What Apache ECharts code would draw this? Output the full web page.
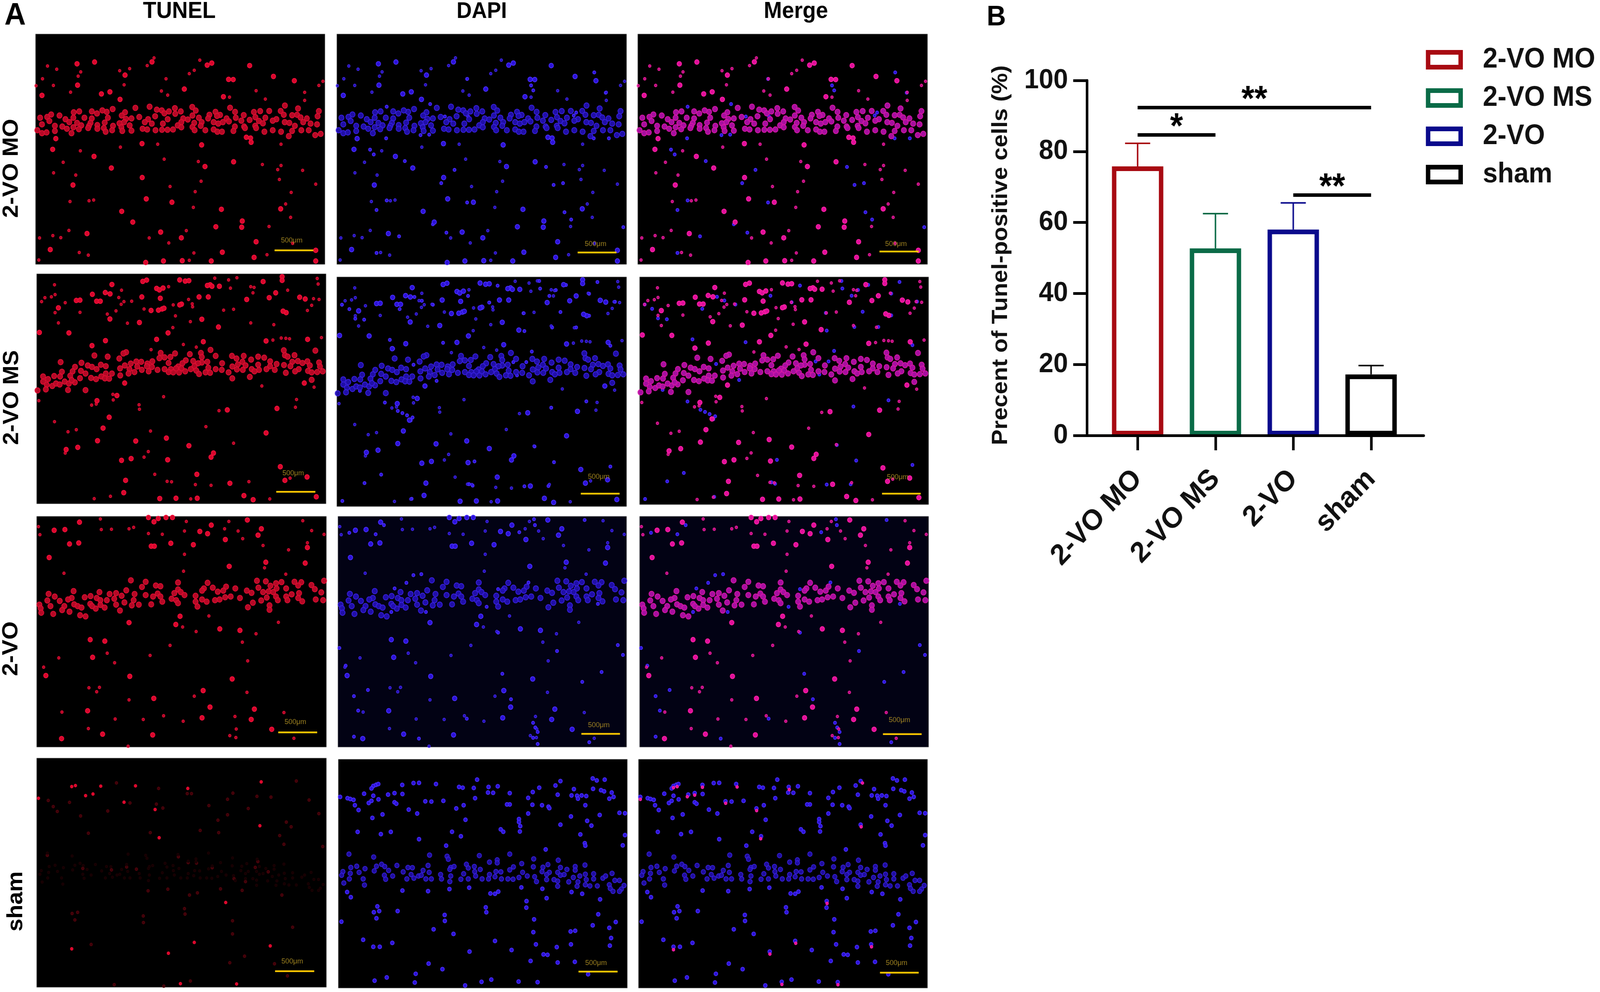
<!DOCTYPE html>
<html>
<head>
<meta charset="utf-8">
<title>TUNEL</title>
<style>
  html, body { margin: 0; padding: 0; background: #fff; overflow: hidden; }
  #main { width: 4328px; height: 2540px; transform-origin: 0 0; }
</style>
<script src="https://cdn.jsdelivr.net/npm/echarts@6/dist/echarts.min.js"></script>
</head>
<body>
<div id="main"></div>
<script>
// bar chart values
var categories = ['2-VO MO', '2-VO MS', '2-VO', 'sham'];
var percentValues = [75.8, 52.7, 58, 17.2];
var percentErrTops = [82.3, 62.5, 65.5, 19.7];
var yTicks = { min: 0, max: 100, step: 20 };
var sigBrackets = [
  { from: 0, to: 3, y: 92.4, text: '**' },
  { from: 0, to: 1, y: 84.7, text: '*' },
  { from: 2, to: 3, y: 67.7, text: '**' }
];

var columnNames = ['TUNEL', 'DAPI', 'Merge'];

var r1Cells = [[225,203],[320,191],[485,280],[228,348],[403,394],[357,408],[35,418],[458,445],[631,190],[930,212],[955,198],[806,375],[1071,310],[1046,309],[1289,289],[1402,318],[1018,427],[1160,215],[1142,703],[1165,708],[1168,737],[110,712],[577,746],[93,785],[317,833],[900,755],[1073,870],[411,912],[918,902],[578,977],[203,1028],[739,1145],[600,1122],[1007,1193],[1328,1190],[467,1207],[527,1280],[1120,1273],[1117,1315],[977,1312],[678,1348],[279,1358],[790,1387],[1195,1414],[80,1467],[1012,1485],[1184,1520],[693,1545],[795,1543],[952,1545],[597,1555],[1518,1472],[1518,1545]];
var r1Small = [[65,218],[115,240],[245,258],[231,287],[38,305],[97,350],[190,396],[3,352],[456,250],[510,236],[480,346],[605,215],[642,163],[707,305],[833,270],[860,247],[890,178],[682,388],[716,416],[1195,386],[1051,430],[1557,322],[1535,350],[1458,397],[1458,452],[1245,443],[243,795],[98,945],[150,873],[218,960],[697,852],[882,868],[1229,888],[1330,895],[1312,923],[1447,928],[1321,990],[1518,1022],[729,1038],[897,1002],[865,1073],[1385,1078],[290,1135],[315,1130],[187,1140],[855,1180],[1355,1157],[1382,1248],[1265,1310],[181,1337],[817,1338],[22,1388],[94,1372],[137,1386],[616,1388],[722,1422],[237,1487],[286,1505],[858,1490],[1393,1425],[1254,1502],[18,1538],[833,1540],[460,770],[662,750],[1330,750]];
var r1Band = [[541,503],[618,495],[849,497],[755,505],[418,511],[1054,502],[1351,487],[657,515],[684,520],[868,521],[1217,525],[1266,524],[1328,524],[1183,531],[1422,507],[1535,525],[305,527],[386,530],[485,533],[723,527],[787,527],[975,530],[207,533],[237,527],[362,520],[85,548],[130,555],[333,541],[467,555],[648,560],[757,543],[698,540],[850,555],[1128,552],[1081,530],[1000,551],[983,558],[1345,550],[1417,550],[1390,553],[942,550],[1191,566],[562,565],[25,570],[63,565],[162,580],[205,570],[265,570],[305,575],[392,570],[490,578],[520,575],[610,580],[716,580],[800,575],[825,582],[885,570],[935,575],[1035,575],[1085,570],[1245,570],[1305,580],[1436,568],[1470,575],[1528,560],[75,592],[183,600],[298,605],[375,603],[455,608],[480,600],[592,600],[690,610],[790,600],[860,605],[900,600],[965,600],[1048,595],[1115,590],[1160,585],[1210,592],[1285,590],[1350,600],[1450,600],[1490,610],[35,615],[105,625],[225,605],[248,622],[290,625],[335,620],[420,625],[510,622],[630,610],[770,622],[990,610],[1015,600],[1080,630],[1130,630],[1190,625],[1232,608],[1375,605],[1405,625],[1525,615],[145,630],[170,645],[205,635],[235,648],[285,640],[335,645],[370,640],[465,635],[580,645],[605,650],[650,655],[685,652],[715,652],[745,650],[790,635],[850,633],[862,655],[895,625],[920,655],[965,650],[985,665],[1010,665],[1072,660],[1135,640],[1195,640],[10,655],[35,675],[60,670],[105,660],[195,675],[380,665],[415,655],[470,660],[520,658],[1240,665],[1285,655],[1390,660],[1440,655],[1480,655],[1515,688],[1545,680],[1372,695],[1330,665]];
var r1DapiOnly = [[705,306],[505,477],[267,710],[180,787],[200,820],[368,865],[637,925],[565,1015],[1132,905],[1224,1015],[1173,1027],[1051,350],[1063,384],[1393,262],[1455,400],[270,495],[710,560],[585,562],[270,1133],[215,1198],[1232,1213],[1268,1263],[337,1377],[520,1295],[593,1352],[215,1490],[1550,1315],[705,1147],[1282,555],[1295,535],[1472,710],[1390,710],[500,685],[453,688]];

var r2Cells = [[408,73],[596,43],[575,52],[775,42],[805,50],[825,47],[650,100],[665,110],[685,97],[940,75],[925,80],[950,85],[990,85],[1227,53],[1330,20],[1330,45],[1295,130],[1260,163],[1138,175],[1425,160],[1455,172],[302,140],[398,137],[372,128],[570,158],[670,167],[215,182],[235,180],[325,187],[345,187],[880,158],[930,158],[785,207],[775,212],[660,248],[680,240],[690,235],[620,250],[118,232],[1352,265],[1335,255],[895,310],[397,308],[557,332],[985,363],[175,403],[712,403],[650,447],[373,456],[1243,458],[1468,447],[300,490],[903,463],[15,400],[477,745],[1450,745],[435,830],[327,865],[1033,928],[1302,918],[393,978],[360,1052],[1243,1085],[703,1120],[330,1138],[537,1140],[825,1172],[160,1198],[223,1183],[958,1222],[945,1250],[710,1268],[460,1272],[512,1260],[1320,1315],[868,1367],[482,1408],[1465,1385],[1345,1408],[1047,1428],[472,1492],[1123,1512],[667,1532],[755,1530],[870,1530],[1173,1540],[1515,1520]];
var r2Small = [[97,75],[45,163],[27,190],[100,142],[80,157],[460,112],[445,162],[473,190],[515,187],[458,208],[235,263],[383,275],[430,253],[582,240],[752,287],[833,326],[492,337],[740,212],[843,205],[845,225],[738,367],[1013,248],[1067,242],[1160,335],[1285,347],[1467,250],[1490,215],[1500,170],[1530,175],[1525,70],[1520,32],[1172,130],[1178,93],[1160,88],[1085,27],[965,30],[715,88],[1050,98],[100,265],[118,335],[155,197],[1360,112],[1280,452],[1543,435],[1350,440],[1325,438],[1370,443],[865,500],[620,517],[795,482],[823,175],[1040,42],[413,822],[415,860],[12,865],[298,895],[323,888],[688,838],[555,893],[557,923],[1220,765],[1408,857],[1402,910],[988,933],[97,1008],[917,1042],[170,1077],[215,1063],[617,1072],[1067,1155],[155,1222],[605,1212],[582,1250],[640,1367],[707,1415],[731,1418],[860,1437],[945,1442],[1150,1417],[1373,1393],[400,1517],[312,1533],[835,1535],[1263,1535],[1503,773]];
var r2Band = [[942,519],[1339,522],[1510,524],[750,543],[672,540],[485,535],[470,543],[830,548],[890,540],[313,557],[385,565],[1058,560],[1122,560],[970,560],[895,568],[1200,565],[1345,555],[1397,555],[448,578],[665,575],[693,570],[725,567],[1083,578],[1162,585],[1233,572],[1360,565],[808,590],[848,595],[130,602],[243,607],[540,598],[567,600],[627,597],[1265,597],[1415,595],[1440,608],[1467,597],[1115,600],[790,610],[925,600],[895,605],[875,610],[600,612],[1005,610],[1300,615],[1385,600],[1530,605],[510,612],[715,608],[1090,618],[208,635],[277,625],[300,635],[348,620],[375,630],[478,625],[545,632],[625,635],[597,630],[767,632],[855,630],[1200,620],[1132,625],[1060,632],[1265,630],[1340,622],[1375,630],[1480,625],[1535,632],[137,668],[195,665],[240,662],[265,680],[325,650],[452,645],[503,650],[570,655],[607,665],[655,655],[693,650],[727,650],[755,645],[785,645],[805,665],[835,650],[865,660],[930,640],[970,650],[1003,655],[1085,652],[1117,655],[1205,655],[1165,650],[1245,650],[1290,655],[1420,650],[1040,672],[880,683],[915,672],[940,675],[772,673],[715,670],[740,672],[1180,665],[1350,675],[1400,665],[1470,662],[1490,672],[1520,670],[1550,665],[375,680],[408,680],[182,695],[530,670],[498,680],[453,693],[35,700],[95,697],[62,718],[235,712],[295,710],[322,718],[350,700],[370,713],[393,715],[127,700],[35,735],[55,757],[85,765],[105,748],[125,755],[152,735],[175,748],[207,740],[190,725],[5,795],[50,788],[170,792],[265,793],[1060,713],[1155,703],[1490,723]];
var r2DapiOnly = [[1095,28],[1240,55],[1410,35],[1100,80],[1185,90],[1150,130],[1298,130],[1365,115],[1140,175],[1263,165],[1430,160],[1505,170],[825,175],[870,60],[710,130],[420,137],[460,163],[520,190],[28,190],[68,220],[148,292],[100,285],[340,220],[1010,248],[1210,240],[1365,265],[1295,345],[1165,345],[1015,370],[575,450],[287,430],[305,490],[1055,510],[1480,470],[955,582],[1025,582],[415,600],[975,672],[540,710],[125,778],[260,858],[330,915],[355,930],[380,945],[400,980],[410,960],[1350,850],[1160,893],[1175,1265],[1070,1158],[745,1260],[735,1425],[715,1415],[1015,1430],[1145,1428],[1480,1295],[240,1350],[150,1408],[30,1530],[405,1515]];

var r3Cells = [[232,40],[95,95],[153,90],[178,188],[228,181],[1140,25],[883,103],[925,118],[1021,158],[1198,128],[1216,85],[848,193],[726,183],[620,203],[637,203],[1465,212],[1240,312],[1453,318],[1042,340],[68,280],[605,8],[658,15],[700,8],[735,8],[635,37],[945,60],[776,679],[500,722],[753,735],[991,765],[1100,775],[290,838],[369,848],[303,958],[504,1087],[1058,1105],[50,1082],[901,1184],[634,1237],[276,1321],[938,1296],[895,1369],[1161,1380],[1272,1447],[357,1480],[628,1485],[135,1510],[1178,1310]];
var r3Small = [[10,70],[18,125],[350,90],[405,88],[500,85],[525,75],[345,18],[1017,85],[1090,100],[1225,198],[1363,228],[1465,180],[1488,97],[1555,123],[1115,152],[605,117],[680,122],[800,100],[810,35],[1040,35],[1440,30],[148,387],[795,373],[1348,393],[1233,350],[800,258],[932,677],[790,752],[1308,720],[863,783],[1187,798],[722,877],[1113,855],[382,930],[614,945],[422,995],[1142,982],[38,1025],[1138,1196],[853,1222],[500,1247],[325,1192],[340,1162],[283,1165],[137,1330],[687,1355],[1073,1360],[425,1377],[577,1380],[793,1392],[1338,1333],[280,1442],[1080,1445],[1078,1503],[1392,1508],[1045,1490],[495,1562],[120,962]];
var r3Band = [[570,480],[510,435],[590,445],[645,470],[670,475],[765,450],[925,452],[1192,438],[1240,442],[1295,455],[1325,447],[1395,445],[1432,448],[1555,438],[1487,467],[1265,472],[1350,490],[485,503],[200,508],[340,515],[765,497],[905,490],[953,485],[1025,478],[1075,490],[1200,485],[1137,505],[1298,490],[1415,470],[1505,495],[1010,505],[895,505],[65,527],[395,528],[430,522],[530,528],[460,540],[655,525],[745,522],[780,515],[800,535],[980,512],[1163,520],[1225,515],[1255,510],[1280,515],[1420,522],[1380,530],[1540,517],[98,545],[190,555],[260,550],[292,542],[325,555],[345,570],[590,535],[630,545],[670,545],[860,540],[1020,550],[1050,545],[1100,555],[1245,552],[1295,545],[1350,545],[58,572],[125,575],[170,565],[380,570],[420,560],[475,585],[525,570],[730,560],[755,570],[895,565],[920,580],[965,570],[990,565],[1215,572],[1305,570],[1357,570],[1437,578],[1415,555],[1510,565],[1550,570],[15,600],[75,610],[150,610],[203,598],[222,610],[290,595],[345,602],[430,600],[515,605],[553,600],[620,598],[680,580],[765,590],[860,580],[1170,587],[1143,618],[1260,605],[22,625],[138,637],[243,620],[320,627],[368,620],[300,610],[178,648],[90,663],[25,655],[451,640],[235,672],[265,680],[870,613],[1260,635]];
var r3DapiOnly = [[62,112],[205,122],[250,60],[1065,20],[1070,60],[1340,25],[985,108],[410,400],[453,393],[372,452],[308,490],[1035,450],[870,495],[1520,875],[1548,942],[1432,1058],[1327,1125],[893,1070],[42,1015],[8,895],[1190,915],[163,1180],[87,1222],[110,1320],[700,1375],[1060,1403],[1072,1435],[1085,1465],[1060,1505],[1085,1547],[1365,1535],[87,1497],[440,1510],[870,790],[290,650],[808,615],[478,650],[1412,595],[940,1243]];

var r4Cells = [[10,258],[50,267],[65,272],[83,278],[90,315],[110,348],[140,236],[190,183],[205,175],[217,170],[180,200],[190,250],[165,300],[180,285],[218,275],[270,242],[305,232],[348,238],[347,176],[305,295],[315,305],[382,345],[408,163],[438,162],[530,170],[472,288],[505,290],[570,285],[428,372],[240,378],[185,402],[640,337],[680,315],[655,190],[675,195],[735,197],[753,140],[815,190],[865,185],[812,228],[840,230],[930,232],[742,267],[930,310],[915,310],[1055,225],[1090,195],[1030,265],[1030,372],[980,410],[980,430],[987,458],[1178,180],[1205,150],[1190,243],[1140,325],[1145,335],[1265,248],[1295,250],[1320,248],[1345,252],[1300,270],[1278,205],[1380,132],[1402,145],[1445,140],[1382,203],[1425,212],[1442,220],[1483,228],[1493,258],[1470,270],[1340,315],[1525,367],[1555,370],[1262,392],[1205,448],[1350,422],[1373,455],[1313,515],[1337,575],[1340,592],[1543,590],[1555,520],[690,415],[617,497],[881,480],[895,497],[985,495],[665,528],[285,498],[105,498],[231,513],[438,548],[1053,312],[1105,315],[1418,382],[585,592],[1125,618],[710,880],[993,878],[348,900],[603,890],[487,904],[825,920],[868,907],[850,922],[1107,888],[1323,922],[1265,910],[1130,952],[1021,972],[1020,1017],[1062,1097],[1058,1185],[850,1245],[48,910],[68,945],[322,1040],[212,1008],[222,1040],[193,1048],[207,1090],[17,1113],[577,1067],[578,1108],[803,1048],[800,1015],[1380,1138],[1260,1180],[1285,1175],[1470,1155],[1505,1115],[1410,1062],[1420,960],[135,1237],[293,1258],[190,1285],[225,1285],[625,1197],[517,1165],[712,1318],[940,1307],[1072,1268],[1185,1287],[1262,1268],[1473,1277],[1480,1225],[1113,1337],[1135,1340],[1043,1382],[1283,1388],[1190,1393],[490,1400],[565,1438],[263,1495],[197,1517],[415,1530],[420,1470],[777,1525],[830,1510],[978,1523],[1081,1527],[688,1550],[1355,1473]];
var r4Band = [[58,650],[192,670],[495,657],[765,660],[930,650],[590,665],[597,685],[1060,683],[1193,692],[862,690],[235,720],[207,733],[252,735],[318,728],[68,742],[100,733],[378,742],[402,743],[487,728],[610,742],[628,735],[695,720],[738,735],[820,705],[862,710],[950,738],[995,715],[1058,737],[1110,740],[1137,722],[1205,742],[1285,735],[1338,725],[25,770],[65,782],[113,775],[145,750],[195,765],[273,762],[352,772],[395,790],[460,762],[493,775],[555,790],[605,755],[680,785],[705,745],[740,770],[770,755],[820,790],[855,770],[882,772],[930,758],[1000,775],[1105,770],[1145,775],[1190,775],[1240,755],[1285,760],[1385,785],[1485,782],[1340,788],[18,795],[60,820],[135,820],[250,795],[257,822],[295,800],[372,820],[410,815],[435,800],[450,795],[475,820],[505,820],[560,820],[610,800],[665,822],[705,820],[745,800],[780,820],[815,820],[850,805],[885,820],[920,820],[948,822],[980,810],[1025,800],[1065,805],[1130,790],[1130,825],[1170,825],[1205,795],[1225,790],[1275,810],[1310,800],[1345,825],[1385,820],[1435,815],[1450,800],[30,848],[142,862],[605,838],[1075,838],[1190,835],[1250,840],[1300,840],[1340,860],[1365,868],[1405,868],[1470,860],[1500,830],[1525,830],[1550,865],[1475,885],[1535,890],[1490,905],[1525,905],[1190,870],[1295,870]];
var r4Tunel = [[10,275],[190,195],[210,188],[535,190],[818,208],[1215,163],[1208,463],[641,352],[663,545],[1023,988],[853,1261],[190,1305],[713,1335],[1264,1285],[778,1543],[1082,1545],[473,302],[305,246],[265,257],[347,192]];
var r4TunelDim = [[432,170],[63,290],[178,303],[90,332],[112,365],[505,307],[385,362],[238,396],[648,315],[683,342],[660,208],[815,243],[838,243],[932,325],[1062,240],[1033,282],[1145,345],[1192,262],[1268,267],[1405,157],[1474,287],[1527,380],[1033,388],[981,425],[1351,438],[1377,470],[885,495],[985,510],[615,510],[280,514],[1315,530],[1338,590],[1548,605],[58,665],[767,675],[1197,708],[1183,748],[487,745],[1253,778],[1068,825],[1130,845],[710,897],[827,937],[870,922],[603,908],[1112,905],[995,895],[1327,937],[800,1030],[803,1067],[207,1107],[192,1063],[222,1055],[577,1080],[578,1125],[1060,1113],[1060,1203],[1385,1157],[295,1275],[1125,1355],[1045,1400],[1287,1407],[1357,1490],[832,1525],[420,1550],[688,1560],[250,755],[405,765],[540,760],[820,715],[865,718],[950,750]];

var fieldRows = [
  { name: '2-VO MO', cells: r1Cells, small: r1Small, band: r1Band, dapi: r1DapiOnly },
  { name: '2-VO MS', cells: r2Cells, small: r2Small, band: r2Band, dapi: r2DapiOnly },
  { name: '2-VO', cells: r3Cells, small: r3Small, band: r3Band, dapi: r3DapiOnly },
  { name: 'sham', cells: r4Cells, small: [], band: r4Band, dapi: [] }
];

// [left, top, right, bottom] of every micrograph, bar = [x1, x2, y, textX, textY] in field units
var panels = [
  { row: 0, col: 0, box: [96, 87, 879, 677], bar: [1295, 1505, 1472, 1388, 1405] },
  { row: 0, col: 1, box: [911, 87, 1695, 677], bar: [1303, 1513, 1487, 1400, 1428] },
  { row: 0, col: 2, box: [1725, 87, 2509, 677], bar: [1308, 1520, 1480, 1397, 1428] },
  { row: 1, col: 0, box: [99, 701, 882, 1290], bar: [1298, 1510, 1486, 1390, 1360] },
  { row: 1, col: 1, box: [911, 709, 1695, 1297], bar: [1320, 1530, 1480, 1417, 1366] },
  { row: 1, col: 2, box: [1730, 709, 2512, 1292], bar: [1315, 1525, 1493, 1400, 1380] },
  { row: 2, col: 0, box: [99, 1322, 883, 1913], bar: [1307, 1518, 1468, 1400, 1397] },
  { row: 2, col: 1, box: [914, 1322, 1695, 1913], bar: [1322, 1532, 1478, 1417, 1420] },
  { row: 2, col: 2, box: [1730, 1322, 2512, 1913], bar: [1320, 1530, 1480, 1410, 1384] },
  { row: 3, col: 0, box: [99, 1941, 883, 2528], bar: [1290, 1502, 1458, 1383, 1390] },
  { row: 3, col: 1, box: [915, 1944, 1697, 2530], bar: [1303, 1515, 1455, 1398, 1395] },
  { row: 3, col: 2, box: [1727, 1944, 2509, 2530], bar: [1310, 1520, 1462, 1400, 1397] }
];

var FONT = '"Liberation Sans", Arial, sans-serif';
var barColors = ['#a80a12', '#0a6b47', '#0a0a8c', '#000000'];
var channelStyle = {
  tunel: { fill: '#d8082c', edge: '#f5103c', band: '#c00a28', bandEdge: '#e01034' },
  dapi: { fill: '#2c12d8', edge: '#4a30ff', band: '#2210b0', bandEdge: '#3a22e0' },
  merge: { fill: '#e0109a', edge: '#ff20a8', band: '#b010a8', bandEdge: '#d818a8' }
};

// the window can be narrower than the reference, squeeze the drawing to fill it
var mainEl = document.getElementById('main');
if (window.innerWidth < 4328) {
  mainEl.style.transform = 'scaleX(' + window.innerWidth / 4328 + ')';
}
var chart = echarts.init(mainEl, null, { renderer: 'canvas' });

var grids = [];
var xAxes = [];
var yAxes = [];
var series = [];

function nucleiSeries(idx, points, size, style, edge, opacity) {
  if (!points.length) return;
  series.push({
    type: 'scatter',
    xAxisIndex: idx,
    yAxisIndex: idx,
    data: points,
    symbolSize: size,
    silent: true,
    animation: false,
    itemStyle: { color: style, borderColor: edge, borderWidth: 2, opacity: opacity }
  });
}

panels.forEach(function (p, idx) {
  var field = fieldRows[p.row];
  var dark = p.row == 2 && p.col > 0 ? '#020214' : '#000000';
  grids.push({
    left: p.box[0],
    top: p.box[1],
    width: p.box[2] - p.box[0],
    height: p.box[3] - p.box[1],
    show: true,
    backgroundColor: dark,
    borderColor: '#8a8a8a',
    borderWidth: 1
  });
  xAxes.push({ gridIndex: idx, type: 'value', min: 0, max: 1568, show: false });
  yAxes.push({ gridIndex: idx, type: 'value', min: 0, max: 1568, inverse: true, show: false });

  if (p.row == 3) {
    // sham: hardly any TUNEL signal, DAPI normal
    if (p.col == 0) {
      nucleiSeries(idx, r4TunelDim, 7, '#3c0208', '#50030c', 1);
      nucleiSeries(idx, r4Band, 6, '#120002', '#1c0104', 1);
      nucleiSeries(idx, r4Tunel, 7, '#d8082c', '#e80a30', 1);
    } else {
      nucleiSeries(idx, r4Band, 12, channelStyle.dapi.band, channelStyle.dapi.bandEdge, 0.9);
      nucleiSeries(idx, r4Cells, 10, channelStyle.dapi.fill, channelStyle.dapi.edge, 1);
      if (p.col == 2) nucleiSeries(idx, r4Tunel, 7, channelStyle.merge.fill, channelStyle.merge.edge, 1);
    }
  } else {
    var st = channelStyle[['tunel', 'dapi', 'merge'][p.col]];
    if (p.col > 0) nucleiSeries(idx, field.dapi, 8, channelStyle.dapi.fill, channelStyle.dapi.edge, 1);
    nucleiSeries(idx, field.band, 14, st.band, st.bandEdge, 0.95);
    nucleiSeries(idx, field.small, 7, st.fill, st.edge, 0.8);
    nucleiSeries(idx, field.cells, 12, st.fill, st.edge, 1);
  }

  // scale bar and its text
  series.push({
    type: 'line',
    xAxisIndex: idx,
    yAxisIndex: idx,
    data: [[p.bar[0], p.bar[2]], [p.bar[1], p.bar[2]]],
    showSymbol: false,
    symbol: 'none',
    silent: true,
    animation: false,
    z: 5,
    lineStyle: { color: '#f6c400', width: 4.5 }
  });
  series.push({
    type: 'scatter',
    xAxisIndex: idx,
    yAxisIndex: idx,
    data: [[p.bar[3], p.bar[4]]],
    symbolSize: 1,
    silent: true,
    animation: false,
    z: 6,
    itemStyle: { color: 'transparent' },
    label: {
      show: true,
      position: 'inside',
      formatter: '500μm',
      color: '#c6a228',
      fontFamily: FONT,
      fontSize: 19
    }
  });
});

// bar chart: one grid for the long axes, one for the evenly spaced categories
var axisIdx = panels.length;
var barIdx = panels.length + 1;
grids.push({ left: 2940, top: 206, width: 911, height: 909 });
grids.push({ left: 2972, top: 206, width: 842, height: 909 });

xAxes.push({
  gridIndex: axisIdx,
  type: 'value',
  min: 0,
  max: 1,
  z: 5,
  splitLine: { show: false },
  axisTick: { show: false },
  axisLabel: { show: false },
  axisLine: { show: true, lineStyle: { color: '#000', width: 7 } }
});
yAxes.push({
  gridIndex: axisIdx,
  type: 'value',
  min: yTicks.min,
  max: yTicks.max,
  interval: yTicks.step,
  name: 'Precent of Tunel-positive cells (%)',
  nameLocation: 'middle',
  nameGap: 203,
  nameTextStyle: { fontFamily: FONT, fontWeight: 'bold', fontSize: 60, color: '#111', padding: [0, 0, 0, 14] },
  splitLine: { show: false },
  axisLine: { show: true, lineStyle: { color: '#000', width: 7 } },
  axisTick: { show: true, length: 37, lineStyle: { color: '#000', width: 7 } },
  axisLabel: { fontFamily: FONT, fontWeight: 'bold', fontSize: 71, color: '#111', margin: 51 }
});

xAxes.push({
  gridIndex: barIdx,
  type: 'category',
  data: categories,
  axisLine: { show: false },
  axisTick: { show: true, alignWithLabel: true, length: 38, lineStyle: { color: '#000', width: 7 } },
  axisLabel: { fontFamily: FONT, fontWeight: 'bold', fontSize: 74, color: '#111', rotate: 45, margin: 100, interval: 0 }
});
yAxes.push({ gridIndex: barIdx, type: 'value', min: yTicks.min, max: yTicks.max, show: false });

categories.forEach(function (name, i) {
  var values = categories.map(function (c, j) { return j == i ? percentValues[j] : null; });
  series.push({
    name: name,
    type: 'bar',
    xAxisIndex: barIdx,
    yAxisIndex: barIdx,
    data: values,
    barWidth: 139,
    barGap: '-100%',
    animation: false,
    itemStyle: { color: '#fff', borderColor: barColors[i], borderWidth: 12 }
  });
});

// error bars
series.push({
  type: 'custom',
  xAxisIndex: barIdx,
  yAxisIndex: barIdx,
  animation: false,
  silent: true,
  z: 1,
  data: categories.map(function (c, i) { return [i, percentValues[i], percentErrTops[i]]; }),
  encode: { x: 0, y: [1, 2] },
  renderItem: function (params, api) {
    var base = api.coord([api.value(0), api.value(1)]);
    var top = api.coord([api.value(0), api.value(2)]);
    var lineStyle = { stroke: barColors[params.dataIndex], lineWidth: 4 };
    return {
      type: 'group',
      children: [
        { type: 'line', shape: { x1: base[0], y1: base[1], x2: top[0], y2: top[1] }, style: lineStyle },
        { type: 'line', shape: { x1: top[0] - 34, y1: top[1], x2: top[0] + 34, y2: top[1] }, style: lineStyle }
      ]
    };
  }
});

// significance lines
series.push({
  type: 'line',
  xAxisIndex: barIdx,
  yAxisIndex: barIdx,
  data: [],
  animation: false,
  silent: true,
  markLine: {
    silent: true,
    animation: false,
    symbol: 'none',
    lineStyle: { color: '#000', width: 9, type: 'solid' },
    data: sigBrackets.map(function (b) {
      return [
        {
          coord: [b.from, b.y],
          label: {
            show: true,
            position: 'middle',
            formatter: b.text,
            fontFamily: FONT,
            fontWeight: 'bold',
            fontSize: 90,
            color: '#000',
            distance: -28
          }
        },
        { coord: [b.to, b.y] }
      ];
    })
  }
});

function txt(text, x, y, size, rot, align) {
  return {
    type: 'text',
    x: x,
    y: y,
    rotation: rot || 0,
    silent: true,
    style: {
      text: text,
      fontFamily: FONT,
      fontWeight: 'bold',
      fontSize: size,
      fill: '#000',
      textAlign: align || 'center',
      textVerticalAlign: 'middle'
    }
  };
}

chart.setOption({
  animation: false,
  backgroundColor: '#fff',
  grid: grids,
  xAxis: xAxes,
  yAxis: yAxes,
  legend: {
    left: 3857,
    top: 117,
    orient: 'vertical',
    icon: 'rect',
    padding: 0,
    itemWidth: 88,
    itemHeight: 38,
    itemGap: 26,
    selectedMode: false,
    data: categories,
    itemStyle: { color: '#fff', borderWidth: 12 },
    textStyle: { fontFamily: FONT, fontWeight: 'bold', fontSize: 72, color: '#111', padding: [0, 0, 0, 55] }
  },
  graphic: [
    txt('A', 12, 41, 80, 0, 'left'),
    txt('B', 2669, 45, 72, 0, 'left'),
    txt(columnNames[0], 485, 30, 59),
    txt(columnNames[1], 1303, 30, 57),
    txt(columnNames[2], 2153, 30, 59),
    txt(fieldRows[0].name, 31, 431, 60, Math.PI / 2),
    txt(fieldRows[1].name, 33, 1018, 59, Math.PI / 2),
    txt(fieldRows[2].name, 30, 1661, 60, Math.PI / 2),
    txt(fieldRows[3].name, 44, 2308, 59, Math.PI / 2)
  ],
  series: series
});
</script>
</body>
</html>
